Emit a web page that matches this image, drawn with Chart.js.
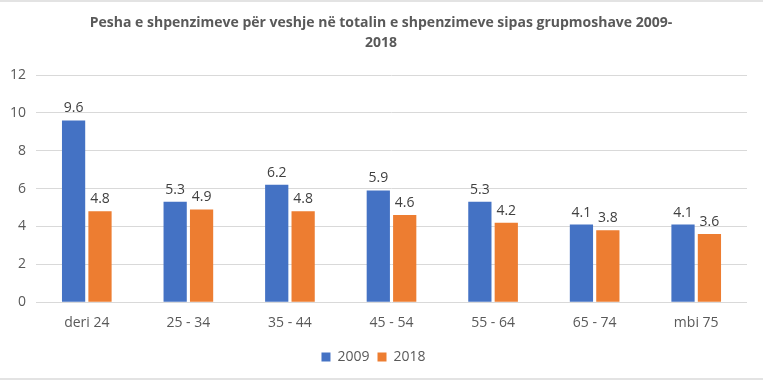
<!DOCTYPE html>
<html>
<head>
<meta charset="utf-8">
<script src="https://cdn.jsdelivr.net/npm/chart.js@4.4.0/dist/chart.umd.min.js"></script>
<style>
  html, body { margin: 0; padding: 0; background: #fff; }
  #wrap { width: 763px; height: 376px; border-top: 2px solid #e3e3e3; border-bottom: 2px solid #e3e3e3; }
</style>
</head>
<body>
<div id="wrap"><canvas id="chart" width="763" height="376"></canvas></div>
<script>
// Të dhënat
const grupmoshat = ['deri 24', '25 - 34', '35 - 44', '45 - 54', '55 - 64', '65 - 74', 'mbi 75'];
const vlerat2009 = [9.6, 5.3, 6.2, 5.9, 5.3, 4.1, 4.1];
const vlerat2018 = [4.8, 4.9, 4.8, 4.6, 4.2, 3.8, 3.6];
const titulli = ['Pesha e shpenzimeve për veshje në totalin e shpenzimeve sipas grupmoshave 2009-', '2018'];

const fontFamily = "'Open Sans', sans-serif";

// Titulli me dy rreshta, i ngushtuar pak që të zërë gjerësinë e origjinalit
const titullPlugin = {
  id: 'titulli',
  afterDraw(chart) {
    const ctx = chart.ctx;
    ctx.save();
    ctx.fillStyle = '#595959';
    ctx.font = 'bold 14px ' + fontFamily;
    ctx.textAlign = 'center';
    ctx.textBaseline = 'middle';
    const w = ctx.measureText(titulli[0]).width;
    const sx = Math.min(1, 585 / w);
    ctx.translate(381, 0);
    ctx.scale(sx, 1);
    ctx.fillText(titulli[0], 0, 21);
    ctx.fillText(titulli[1], 0, 41);
    ctx.restore();
  }
};

// Etiketat mbi shtyllat
const etiketat = {
  id: 'etiketat',
  afterDatasetsDraw(chart) {
    const ctx = chart.ctx;
    ctx.save();
    ctx.fillStyle = '#404040';
    ctx.font = '14px ' + fontFamily;
    ctx.textAlign = 'center';
    ctx.textBaseline = 'bottom';
    chart.data.datasets.forEach((ds, i) => {
      chart.getDatasetMeta(i).data.forEach((bar, j) => {
        ctx.fillText(ds.data[j].toFixed(1), bar.x, bar.y - 5);
      });
    });
    ctx.restore();
  }
};

new Chart(document.getElementById('chart'), {
  type: 'bar',
  data: {
    labels: grupmoshat,
    datasets: [
      { label: '2009', data: vlerat2009, backgroundColor: '#4472C4' },
      { label: '2018', data: vlerat2018, backgroundColor: '#ED7D31' }
    ]
  },
  options: {
    responsive: false,
    animation: false,
    devicePixelRatio: 1,
    categoryPercentage: 0.52,
    barPercentage: 0.88,
    layout: { padding: { left: 0, right: 16, top: 73, bottom: 4 } },
    plugins: {
      title: { display: false },
      legend: {
        position: 'bottom',
        labels: {
          color: '#595959',
          font: { family: fontFamily, size: 14 },
          boxWidth: 9,
          boxHeight: 9,
          padding: 8
        }
      },
      tooltip: { enabled: false }
    },
    scales: {
      y: {
        min: 0,
        max: 12,
        ticks: { stepSize: 2, color: '#595959', font: { family: fontFamily, size: 14 }, padding: 10 },
        grid: { color: '#d9d9d9', drawTicks: false },
        border: { display: false }
      },
      x: {
        ticks: { color: '#595959', font: { family: fontFamily, size: 14 }, padding: 4 },
        grid: { display: false },
        border: { display: false },
        // hapësirë shtesë mes etiketave dhe legjendës
        afterFit(axis) { axis.height += 7; }
      }
    }
  },
  plugins: [etiketat, titullPlugin]
});
</script>
</body>
</html>
